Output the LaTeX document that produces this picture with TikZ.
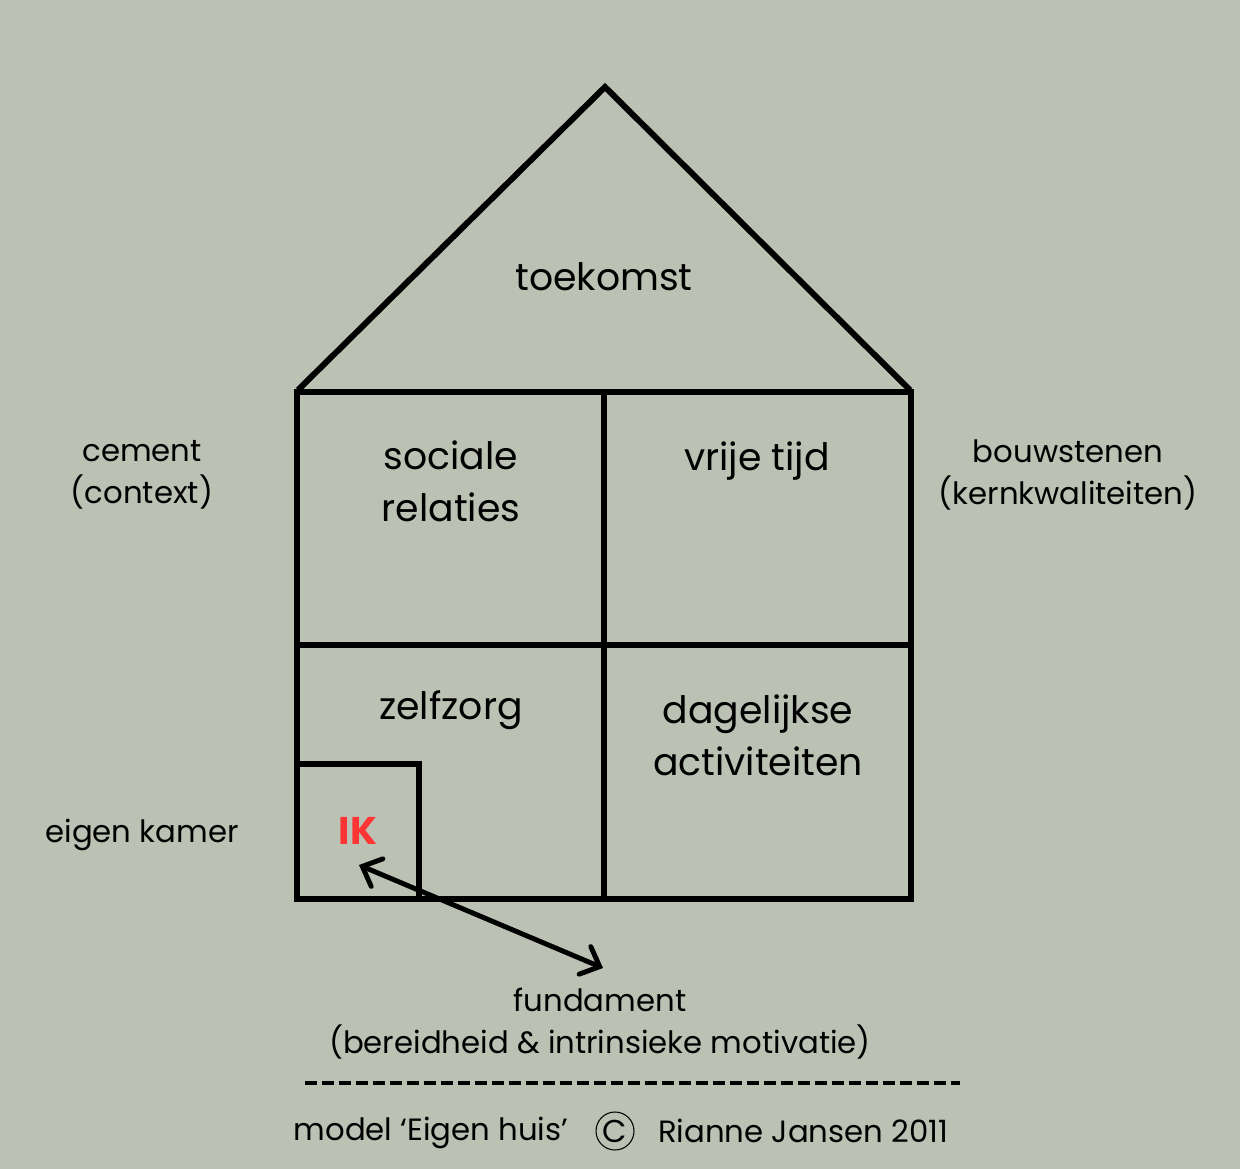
\documentclass[tikz,border=0pt]{standalone}
\usepackage{fontspec}
\setmainfont{Poppins}
\usetikzlibrary{arrows.meta, positioning}
\definecolor{SageBg}{HTML}{BBC1B3}
\definecolor{IkRed}{HTML}{FF3535}
\tikzset{
  % Line styles
  wall/.style={line width=3.4pt, black, line join=miter},
  dashrule/.style={line width=2.3pt, black, dash pattern=on 0.24cm off 0.1cm},
  linkarrow/.style={{Straight Barb[length=0.32cm,width=0.6cm,line cap=round]}-{Straight Barb[length=0.32cm,width=0.6cm,line cap=round]}, line width=2.8pt, black},
  % Text styles
  roomlabel/.style={font=\fontsize{21.5}{29.5}\selectfont, align=center},
  sidelabel/.style={font=\fontsize{17.5}{23.8}\selectfont, align=center},
  iklabel/.style={font=\fontsize{22}{26}\selectfont\bfseries, text=IkRed},
  copymark/.style={circle, draw, line width=0.6pt, inner sep=0pt, minimum size=0.76cm, font=\fontsize{18}{20}\selectfont}
}
\begin{document}
\begin{tikzpicture}[x=0.02cm, y=-0.02cm]
  \fill[SageBg] (0,0) rectangle (1240,1169);
  \useasboundingbox (0,0) rectangle (1240,1169);

  % House outline
  \draw[wall] (298,390) -- (605,87) -- (910,390);
  \draw[wall] (297,392) rectangle (911,899);
  \draw[wall] (604,392) -- (604,899);
  \draw[wall] (297,645) -- (911,645);
  \draw[wall] (297,764) -| (419,899);

  % Room labels
  \node[roomlabel] (future) at (604,277) {toekomst};
  \node[roomlabel] (social) at (451,481) {sociale\\relaties};
  \node[roomlabel] (free) at (757,461) {vrije tijd};
  \node[roomlabel] (selfcare) at (451,710) {zelfzorg};
  \node[roomlabel] (daily) at (758,735) {dagelijkse\\activiteiten};
  \node[iklabel] (ik) at (358,831) {IK};

  % Side labels
  \node[sidelabel] (cement) at (142,475) {cement\\(context)};
  \node[sidelabel] (blocks) at (1068,475) {bouwstenen\\(kernkwaliteiten)};
  \node[sidelabel] (room) at (142,835) {eigen kamer};
  \node[sidelabel] (base) at (600,1024) {fundament\\(bereidheid \& intrinsieke motivatie)};

  % Arrow between IK and fundament
  \coordinate (ikTip) at (359,865);
  \coordinate (baseTip) at (603,968);
  \draw[linkarrow] (ikTip) -- (baseTip);

  % Footer
  \coordinate (ruleL) at (305,1083);
  \coordinate (ruleR) at (960,1083);
  \draw[dashrule] (ruleL) -- (ruleR);
  \node[copymark] (copy) at (615,1131) {C};
  \node[sidelabel, left=0.42cm of copy, yshift=-0.04cm] (model) {model ‘Eigen huis’};
  \node[sidelabel, right=0.35cm of copy] (author) {Rianne Jansen 2011};
\end{tikzpicture}
\end{document}
